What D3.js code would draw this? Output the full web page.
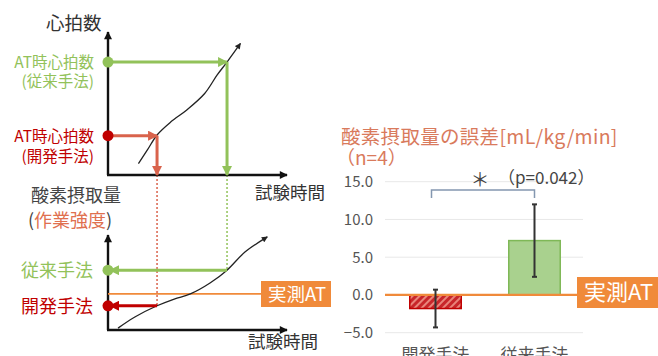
<!DOCTYPE html>
<html>
<head>
<meta charset="utf-8">
<script src="https://cdn.jsdelivr.net/npm/d3@7"></script>
<style>
  html, body { margin: 0; padding: 0; background: #fff; }
  svg { display: block; font-family: "Noto Sans CJK JP", "Noto Sans", sans-serif; }
</style>
</head>
<body>
<svg id="chart" width="658" height="356"></svg>
<script>
// ---- bar chart data ----
const categories = ["開発手法", "従来手法"];
const means = [-1.8, 7.2];
const errors = [2.5, 4.8];
const yTicks = [-5, 0, 5, 10, 15];
const pLabel = "（p=0.042）";

// ---- schematic curves (arbitrary units 0..100) ----
const hrCurveX = [17, 22, 27.4, 35, 44, 54, 61, 66.5, 74];
const hrCurveY = [8, 17.5, 28, 37, 45.5, 57, 70, 79, 92];
const hrAT = { dev: [27.4, 27.5], conv: [66.5, 79] };

const voCurveX = [5.6, 15, 27.4, 37, 46, 57, 66.5, 76.5, 89];
const voCurveY = [2, 13.7, 25.5, 32.6, 38, 49.5, 63, 82, 98];
const voLevels = { conv: 63, measured: 38, dev: 25.5 };

const GREEN = "#92c25a", RED = "#c00000", SALMON = "#d9634c", ORANGE = "#f08a3a";

const svg = d3.select("#chart");
const defs = svg.append("defs");

function marker(id, color, w, h) {
  defs.append("marker").attr("id", id)
    .attr("viewBox", "0 0 10 10").attr("refX", 9).attr("refY", 5)
    .attr("markerWidth", w).attr("markerHeight", h)
    .attr("markerUnits", "userSpaceOnUse").attr("orient", "auto")
    .append("path").attr("d", "M0,0 L10,5 L0,10 Z").attr("fill", color);
}
marker("arBlack", "#111", 9, 8);
marker("arCurve", "#222", 7, 6);
marker("arGreen", GREEN, 12, 10);
marker("arSalmon", SALMON, 12, 10);
marker("arRed", RED, 12, 10);

// hatch for the developed-method bar
const pat = defs.append("pattern").attr("id", "hatch")
  .attr("patternUnits", "userSpaceOnUse").attr("width", 5).attr("height", 5)
  .attr("patternTransform", "rotate(45)");
pat.append("rect").attr("width", 5).attr("height", 5).attr("fill", "#c8262a");
pat.append("rect").attr("width", 2).attr("height", 5).attr("fill", "#e9857b");

// ---- left schematic ----
const sx = d3.scaleLinear().domain([0, 100]).range([108, 287]);
const syTop = d3.scaleLinear().domain([0, 100]).range([175, 32]);
const syBot = d3.scaleLinear().domain([0, 100]).range([330, 235]);

const line = (ys) => d3.line().x(d => sx(d[0])).y(d => ys(d[1])).curve(d3.curveCatmullRom);

function axes(ys, topY) {
  svg.append("line").attr("x1", sx(0)).attr("y1", ys(0)).attr("x2", sx(0)).attr("y2", topY)
    .attr("stroke", "#111").attr("stroke-width", 2.4).attr("marker-end", "url(#arBlack)");
  svg.append("line").attr("x1", sx(0) - 1).attr("y1", ys(0)).attr("x2", sx(100)).attr("y2", ys(0))
    .attr("stroke", "#111").attr("stroke-width", 2.4).attr("marker-end", "url(#arBlack)");
}

// dotted guides between panels
svg.append("line").attr("x1", sx(hrAT.dev[0])).attr("x2", sx(hrAT.dev[0]))
  .attr("y1", syTop(0)).attr("y2", syBot(voLevels.dev))
  .attr("stroke", SALMON).attr("stroke-width", 1.5).attr("stroke-dasharray", "2,2");
svg.append("line").attr("x1", sx(hrAT.conv[0])).attr("x2", sx(hrAT.conv[0]))
  .attr("y1", syTop(0)).attr("y2", syBot(voLevels.conv))
  .attr("stroke", GREEN).attr("stroke-width", 1.5).attr("stroke-dasharray", "2,2");

// top panel: heart rate
axes(syTop, 32);
svg.append("path").datum(d3.zip(hrCurveX, hrCurveY)).attr("d", line(syTop))
  .attr("fill", "none").attr("stroke", "#222").attr("stroke-width", 1.3).attr("marker-end", "url(#arCurve)");

// conventional AT (green)
svg.append("line").attr("x1", sx(0)).attr("y1", syTop(hrAT.conv[1])).attr("x2", sx(hrAT.conv[0])).attr("y2", syTop(hrAT.conv[1]))
  .attr("stroke", GREEN).attr("stroke-width", 3).attr("marker-end", "url(#arGreen)");
svg.append("line").attr("x1", sx(hrAT.conv[0])).attr("y1", syTop(hrAT.conv[1])).attr("x2", sx(hrAT.conv[0])).attr("y2", syTop(0))
  .attr("stroke", GREEN).attr("stroke-width", 3).attr("marker-end", "url(#arGreen)");
svg.append("circle").attr("cx", sx(0)).attr("cy", syTop(hrAT.conv[1])).attr("r", 5.5).attr("fill", GREEN);

// developed AT (red)
svg.append("line").attr("x1", sx(0)).attr("y1", syTop(hrAT.dev[1])).attr("x2", sx(hrAT.dev[0])).attr("y2", syTop(hrAT.dev[1]))
  .attr("stroke", SALMON).attr("stroke-width", 3).attr("marker-end", "url(#arSalmon)");
svg.append("line").attr("x1", sx(hrAT.dev[0])).attr("y1", syTop(hrAT.dev[1])).attr("x2", sx(hrAT.dev[0])).attr("y2", syTop(0))
  .attr("stroke", SALMON).attr("stroke-width", 3).attr("marker-end", "url(#arSalmon)");
svg.append("circle").attr("cx", sx(0)).attr("cy", syTop(hrAT.dev[1])).attr("r", 5.5).attr("fill", RED);

function txt(x, y, s, color, size, anchor) {
  return svg.append("text").attr("x", x).attr("y", y).attr("fill", color)
    .attr("font-size", size).attr("text-anchor", anchor || "start").text(s);
}
txt(46, 30, "心拍数", "#333", 18.5);
txt(94, 68, "AT時心拍数", GREEN, 15.5, "end");
txt(94, 87, "(従来手法)", GREEN, 15.5, "end");
txt(94, 142, "AT時心拍数", RED, 15.5, "end");
txt(94, 162, "(開発手法)", RED, 15.5, "end");
txt(255, 199, "試験時間", "#333", 17.5);

// bottom panel: oxygen uptake
axes(syBot, 235);
txt(31, 202, "酸素摂取量", "#444", 18);
const t2 = txt(28, 227, "", "#444", 18);
t2.append("tspan").attr("fill", "#444").text("(");
t2.append("tspan").attr("fill", "#e0704f").text("作業強度");
t2.append("tspan").attr("fill", "#444").text(")");
txt(248, 348, "試験時間", "#333", 17.5);

svg.append("line").attr("x1", sx(0)).attr("x2", 262).attr("y1", syBot(voLevels.measured)).attr("y2", syBot(voLevels.measured))
  .attr("stroke", ORANGE).attr("stroke-width", 1.8);
svg.append("path").datum(d3.zip(voCurveX, voCurveY)).attr("d", line(syBot))
  .attr("fill", "none").attr("stroke", "#222").attr("stroke-width", 1.3).attr("marker-end", "url(#arCurve)");

svg.append("line").attr("x1", sx(hrAT.conv[0])).attr("y1", syBot(voLevels.conv)).attr("x2", sx(0) + 2).attr("y2", syBot(voLevels.conv))
  .attr("stroke", GREEN).attr("stroke-width", 3).attr("marker-end", "url(#arGreen)");
svg.append("circle").attr("cx", sx(0)).attr("cy", syBot(voLevels.conv)).attr("r", 5.5).attr("fill", GREEN);
svg.append("line").attr("x1", sx(hrAT.dev[0])).attr("y1", syBot(voLevels.dev)).attr("x2", sx(0) + 2).attr("y2", syBot(voLevels.dev))
  .attr("stroke", RED).attr("stroke-width", 3).attr("marker-end", "url(#arRed)");
svg.append("circle").attr("cx", sx(0)).attr("cy", syBot(voLevels.dev)).attr("r", 5.5).attr("fill", RED);
txt(21, 277, "従来手法", GREEN, 18);
txt(21, 313, "開発手法", RED, 18);

function atBox(x, y, w, h, size) {
  svg.append("rect").attr("x", x).attr("y", y).attr("width", w).attr("height", h).attr("fill", ORANGE);
  txt(x + 7, y + h / 2 + size * 0.36, "実測AT", "#fff", size);
}
atBox(261, 281, 70, 26, 18.5);

// ---- right bar chart ----
const x = d3.scaleBand().domain(categories).range([386, 584]).paddingInner(0.48).paddingOuter(0.24);
const y = d3.scaleLinear().domain([-5, 15]).range([332.7, 181.7]);

svg.append("g").selectAll("line").data(yTicks).join("line")
  .attr("x1", 385).attr("x2", 583).attr("y1", d => y(d)).attr("y2", d => y(d))
  .attr("stroke", "#e8e8e8").attr("stroke-width", 1);
svg.append("g").selectAll("text").data(yTicks).join("text")
  .attr("x", 373).attr("y", d => y(d) + 5.5).attr("text-anchor", "end")
  .attr("font-size", 15).attr("fill", "#555").text(d => d3.format(".1f")(d));

const bars = svg.append("g");
categories.forEach((c, i) => {
  const v = means[i];
  bars.append("rect").attr("x", x(c)).attr("width", x.bandwidth())
    .attr("y", y(Math.max(0, v))).attr("height", Math.abs(y(v) - y(0)))
    .attr("fill", i === 0 ? "url(#hatch)" : "#a9d18e")
    .attr("stroke", i === 0 ? "#c00000" : "#7fb857").attr("stroke-width", 1.5);
});

// zero line / measured AT
svg.append("line").attr("x1", 385).attr("x2", 578).attr("y1", y(0)).attr("y2", y(0))
  .attr("stroke", ORANGE).attr("stroke-width", 2.2);

// error bars
categories.forEach((c, i) => {
  const cx = x(c) + x.bandwidth() / 2;
  const g = svg.append("g").attr("stroke", "#333").attr("stroke-width", 2);
  g.append("line").attr("x1", cx).attr("x2", cx).attr("y1", y(means[i] + errors[i])).attr("y2", y(means[i] - errors[i]));
  [means[i] + errors[i], means[i] - errors[i]].forEach(v =>
    g.append("line").attr("x1", cx - 2.5).attr("x2", cx + 2.5).attr("y1", y(v)).attr("y2", y(v)));
});

atBox(577, 277, 81, 31, 22);

// significance bracket
const bx1 = x(categories[0]) + x.bandwidth() / 2 - 4, bx2 = x(categories[1]) + x.bandwidth() / 2;
svg.append("path").attr("d", `M${bx1},198 V190 H${bx2} V198`)
  .attr("fill", "none").attr("stroke", "#8497b0").attr("stroke-width", 1.5);
txt(480, 187, "＊", "#444", 19, "middle");
txt(498, 184, pLabel, "#444", 17);

// title
txt(341, 144, "酸素摂取量の誤差[mL/kg/min]", "#d97a5c", 19.5).attr("letter-spacing", 0.3);
txt(336, 165, "（n=4）", "#d97a5c", 19);

// category labels
svg.append("g").selectAll("text").data(categories).join("text")
  .attr("x", d => x(d) + x.bandwidth() / 2).attr("y", 361).attr("text-anchor", "middle")
  .attr("font-size", 17).attr("fill", "#555").text(d => d);
</script>
</body>
</html>
